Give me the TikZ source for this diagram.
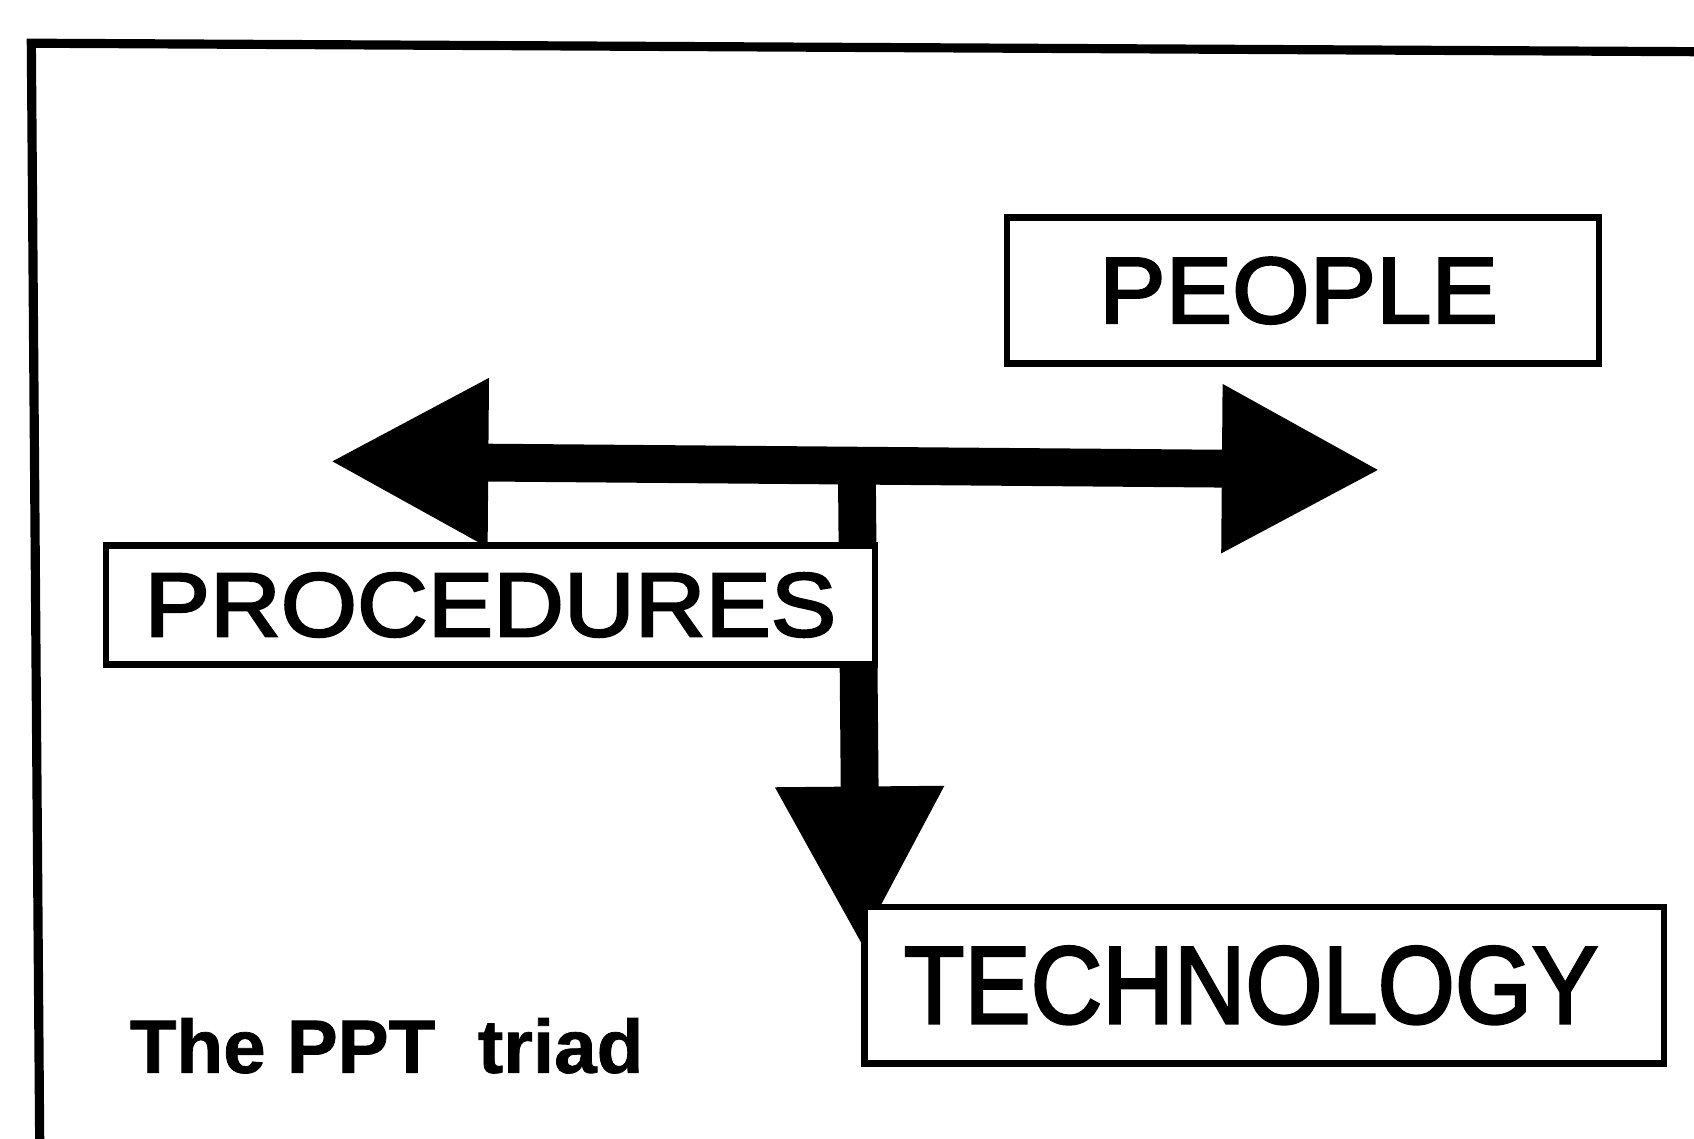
\documentclass[tikz,border=0pt]{standalone}
\usepackage{fontspec}
\setmainfont{Liberation Sans}
\newfontfamily\labelfont[FakeBold=2.5]{Liberation Sans}
\newfontfamily\captionfont[FakeBold=1]{Liberation Sans Bold}
\usetikzlibrary{arrows.meta,calc}
\begin{document}
\begin{tikzpicture}[x=1pt,y=-1pt,
  framestyle/.style={line width=8.5pt,line join=miter},
  labelbox/.style={draw,line width=6pt,fill=white,inner sep=0pt,anchor=center},
  bigtip/.tip={Triangle[length=147pt,width=146pt]},
  bigarrow/.style={line width=35pt,-bigtip},
  twoway/.style={line width=35pt,bigtip-bigtip},
  caption/.style={font=\captionfont\fontsize{70}{80}\selectfont,anchor=base west,inner sep=0pt}]
  \useasboundingbox (0,0) rectangle (1568,1054);
  % open frame: only the top and left sides lie inside the page
  \draw[framestyle] (1600,48) -- (29,40) -- (37,1090);

  % the three labels
  \node[labelbox,minimum width=548pt,minimum height=135pt] (people) at (1206,269)
    {\labelfont\fontsize{87}{100}\selectfont\hspace*{-8pt}\scalebox{1.06}[1]{PEOPLE}};
  \coordinate (ltip) at (305,427);
  \coordinate (rtip) at (1278,435);
  \coordinate (hub) at (793,421);
  \coordinate (dtip) at (797,875);

  % T-shaped connector with three heads
  \draw[twoway] (ltip) -- (rtip);
  \draw[bigarrow] (hub) -- (dtip);

  \node[labelbox,minimum width=712pt,minimum height=110pt] (proc) at (454,560)
    {\labelfont\fontsize{84}{96}\selectfont\scalebox{1.08}[1]{PROCEDURES}};
  \node[labelbox,minimum width=740pt,minimum height=145pt] (tech) at (1170,912)
    {\labelfont\fontsize{102}{116}\selectfont\hspace*{-24pt}\scalebox{0.9}[1]{TECHNOLOGY}};

  \node[caption] (title) at (120,993) {\scalebox{1.01}[1]{The PPT\ \ triad}};
\end{tikzpicture}
\end{document}
